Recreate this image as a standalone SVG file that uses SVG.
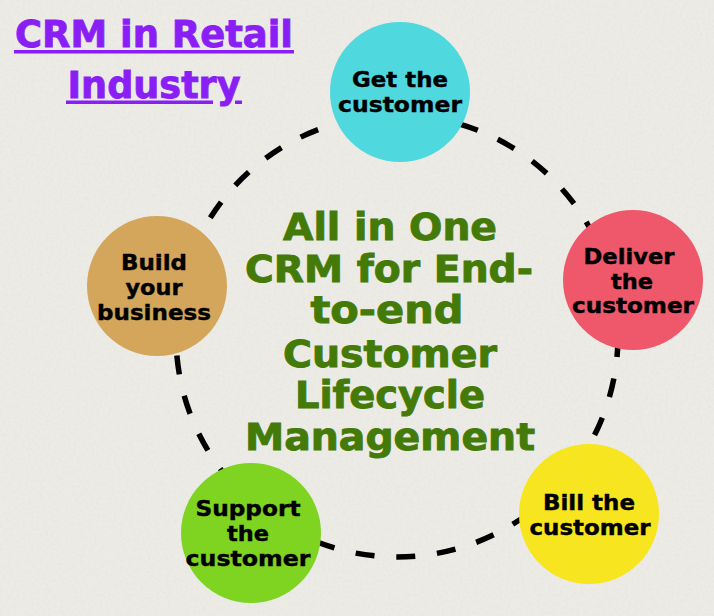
<svg xmlns="http://www.w3.org/2000/svg" width="714" height="616" viewBox="0 0 714 616">
  <defs>
    <filter id="paper" x="0" y="0" width="100%" height="100%">
      <feTurbulence type="fractalNoise" baseFrequency="0.35" numOctaves="3" seed="4" result="n"/>
      <feColorMatrix in="n" type="matrix" values="0 0 0 0 0.55  0 0 0 0 0.54  0 0 0 0 0.5  0 0 0 -1.2 0.75"/>
    </filter>
    <style>
      .bg { fill: #ecebe6; }
      .title { font-family: "DejaVu Sans", "Liberation Sans", sans-serif; font-weight: bold; font-size: 38px; fill: #8a1ff5; stroke: #8a1ff5; stroke-width: 0.9; text-anchor: middle; }
      .uline { fill: #8a1ff5; }
      .center { font-family: "DejaVu Sans", "Liberation Sans", sans-serif; font-weight: bold; font-size: 37px; fill: #437a08; stroke: #437a08; stroke-width: 0.9; text-anchor: middle; }
      .label { font-family: "DejaVu Sans", "Liberation Sans", sans-serif; font-weight: bold; font-size: 21px; fill: #000000; stroke: #000000; stroke-width: 0.4; text-anchor: middle; }
      .ring { fill: none; stroke: #000000; stroke-width: 5.5; stroke-dasharray: 19 21.84; stroke-dashoffset: -2; }
    </style>
  </defs>

  <rect class="bg" x="0" y="0" width="714" height="616"/>
  <rect x="0" y="0" width="714" height="616" filter="url(#paper)" opacity="0.18"/>

  <g id="title">
    <text class="title" x="154" y="47" textLength="278" lengthAdjust="spacingAndGlyphs">CRM in Retail</text>
    <rect class="uline" x="14" y="50" width="280" height="3.5"/>
    <text class="title" x="154" y="98" textLength="173" lengthAdjust="spacingAndGlyphs">Industry</text>
    <rect class="uline" x="66" y="100.5" width="147" height="3.5"/>
    <rect class="uline" x="235" y="100.5" width="7" height="3.5"/>
  </g>

  <g id="connectors">
    <circle class="ring" cx="397" cy="336" r="221"/>
  </g>

  <g id="center-text">
    <text class="center" x="390" y="240" textLength="214" lengthAdjust="spacingAndGlyphs">All in One</text>
    <text class="center" x="389" y="282" textLength="288" lengthAdjust="spacingAndGlyphs">CRM for End-</text>
    <text class="center" x="387" y="323" textLength="153" lengthAdjust="spacingAndGlyphs">to-end</text>
    <text class="center" x="390" y="367" textLength="214" lengthAdjust="spacingAndGlyphs">Customer</text>
    <text class="center" x="390" y="408" textLength="190" lengthAdjust="spacingAndGlyphs">Lifecycle</text>
    <text class="center" x="390" y="450" textLength="290" lengthAdjust="spacingAndGlyphs">Management</text>
  </g>

  <g id="node-get">
    <circle cx="400" cy="92" r="70" fill="#50d8df"/>
    <text class="label" x="400" y="87" textLength="96" lengthAdjust="spacingAndGlyphs">Get the</text>
    <text class="label" x="400" y="112" textLength="124" lengthAdjust="spacingAndGlyphs">customer</text>
  </g>

  <g id="node-deliver">
    <circle cx="633" cy="280" r="70" fill="#ef576b"/>
    <text class="label" x="629" y="264" textLength="91" lengthAdjust="spacingAndGlyphs">Deliver</text>
    <text class="label" x="632" y="288.5" textLength="42" lengthAdjust="spacingAndGlyphs">the</text>
    <text class="label" x="633" y="313" textLength="122" lengthAdjust="spacingAndGlyphs">customer</text>
  </g>

  <g id="node-bill">
    <circle cx="589" cy="514" r="70" fill="#f7e51f"/>
    <text class="label" x="589" y="510" textLength="92" lengthAdjust="spacingAndGlyphs">Bill the</text>
    <text class="label" x="590" y="535" textLength="121" lengthAdjust="spacingAndGlyphs">customer</text>
  </g>

  <g id="node-support">
    <circle cx="251" cy="533" r="70" fill="#7fd321"/>
    <text class="label" x="248" y="516" textLength="105" lengthAdjust="spacingAndGlyphs">Support</text>
    <text class="label" x="248" y="541" textLength="42" lengthAdjust="spacingAndGlyphs">the</text>
    <text class="label" x="248" y="566" textLength="125" lengthAdjust="spacingAndGlyphs">customer</text>
  </g>

  <g id="node-build">
    <circle cx="157" cy="286" r="70" fill="#d4a65b"/>
    <text class="label" x="154" y="270" textLength="66" lengthAdjust="spacingAndGlyphs">Build</text>
    <text class="label" x="154" y="295" textLength="57" lengthAdjust="spacingAndGlyphs">your</text>
    <text class="label" x="154" y="319.5" textLength="114" lengthAdjust="spacingAndGlyphs">business</text>
  </g>
</svg>
